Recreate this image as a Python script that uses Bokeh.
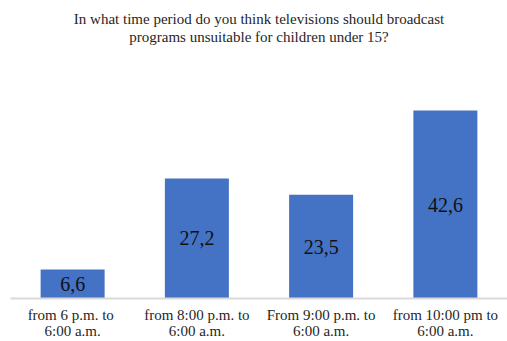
from bokeh.plotting import figure
from bokeh.models import ColumnDataSource, Title, LabelSet, Range1d
from bokeh.embed import file_html
from bokeh.resources import INLINE

categories = ["from 6 p.m.  to\n6:00 a.m.", "from 8:00 p.m. to\n6:00 a.m.",
              "From 9:00 p.m. to\n6:00 a.m.", "from 10:00 pm to\n6:00 a.m."]
values = [6.6, 27.2, 23.5, 42.6]
labels = ["6,6", "27,2", "23,5", "42,6"]

SERIF = "'Liberation Serif', 'Times New Roman', Times, serif"

src = ColumnDataSource(dict(cat=categories, val=values, lab=labels,
                            mid=[v / 2 for v in values]))

p = figure(x_range=categories, y_range=Range1d(0, 57.56), width=507, height=341,
           output_backend="svg", toolbar_location=None,
           min_border_left=10, min_border_right=0, min_border_top=44, min_border_bottom=43)
p.title = None
p.add_layout(Title(text="programs unsuitable for children under 15?", align="center",
                   text_font=SERIF, text_font_size="15px",
                   text_font_style="normal", text_color="#262626", standoff=0), "above")
p.add_layout(Title(text="In what time period do you think televisions should broadcast", align="center",
                   text_font=SERIF, text_font_size="15px",
                   text_font_style="normal", text_color="#262626", standoff=0), "above")

p.vbar(x="cat", top="val", width=0.515, source=src, color="#4472C4", line_color=None)
p.add_layout(LabelSet(x="cat", y="mid", text="lab", source=src, text_align="center",
                      text_baseline="middle", text_font=SERIF,
                      text_font_size="20px", text_color="#111111"))

p.yaxis.visible = False
p.xgrid.visible = False
p.ygrid.visible = False
p.outline_line_color = None
p.xaxis.axis_line_color = "#d9d9d9"
p.xaxis.axis_line_width = 2
p.xaxis.major_tick_line_color = None
p.xaxis.minor_tick_line_color = None
p.xaxis.major_label_text_font = SERIF
p.xaxis.major_label_text_font_size = "15px"
p.xaxis.major_label_text_color = "#262626"
p.xaxis.major_label_text_line_height = 1.0
p.xaxis.major_label_standoff = 2
p.x_range.range_padding = 0

open("out.html", "w").write(file_html(p, INLINE))
